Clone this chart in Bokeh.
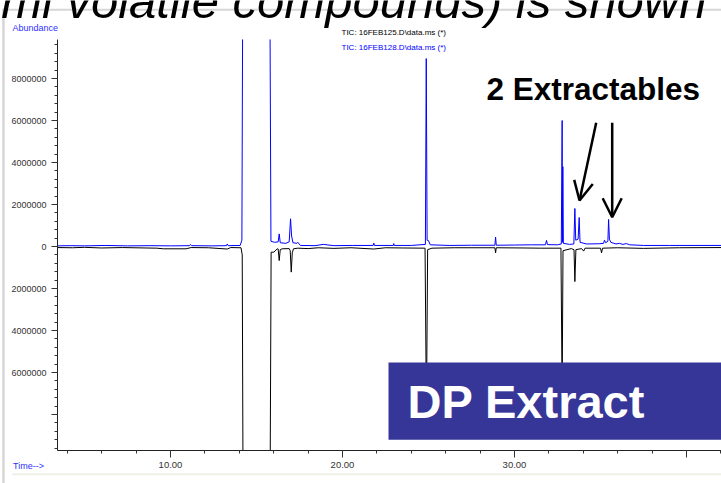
from bokeh.plotting import figure
from bokeh.models import Range1d, FixedTicker, Label, BoxAnnotation, Arrow, OpenHead
from bokeh.embed import file_html
from bokeh.resources import INLINE

OFF = float("nan")   # off-scale stretch of the saturated solvent peaks: not drawn

# ---------------- data ----------------
# Upper trace (blue): TIC 16FEB128.D, retention time in minutes, abundance in millions
blue_time = [3.43, 4.2, 5.0, 6.2, 7.5, 8.8, 10.0, 11.10, 11.16, 11.22, 12.4, 13.25, 13.30, 13.35,
             14.05, 14.15, 14.19, 15.00, 15.79, 15.84, 16.05, 16.26, 16.32, 16.38, 16.70, 16.90, 16.98,
             17.04, 17.12, 17.35, 17.40, 17.55, 18.4, 18.88, 19.5, 20.6, 21.78, 21.82, 21.86,
             22.95, 22.98, 23.01, 24.0, 24.82, 24.87, 24.92, 25.00, 25.10, 26.2, 27.5, 28.86,
             28.90, 28.94, 30.0, 31.0, 31.80, 31.86, 31.92, 32.5, 32.72, 32.77, 32.79, 32.81,
             32.84, 33.2, 33.45, 33.51, 33.56, 33.70, 33.76, 33.81, 34.2, 34.9, 35.18, 35.23,
             35.30, 35.43, 35.47, 35.52, 35.60, 35.9, 36.1, 36.3, 36.5, 36.7, 37.5, 39.0, 42.03]
blue_abund_m = [0.03, 0.04, 0.03, 0.05, 0.03, 0.04, 0.03, 0.04, 0.10, 0.04, 0.03, 0.04, 0.12, 0.04,
                0.05, 0.30, 9.86, OFF, 9.86, 0.25, 0.20, 0.22, 0.60, 0.18, 0.15, 0.22, 1.32,
                0.50, 0.18, 0.15, 0.20, 0.05, 0.04, 0.10, 0.04, 0.05, 0.05, 0.16, 0.05,
                0.05, 0.14, 0.05, 0.05, 0.10, 8.95, 0.30, 0.28, 0.08, 0.05, 0.06, 0.06,
                0.45, 0.06, 0.07, 0.08, 0.08, 0.29, 0.09, 0.08, 0.12, 6.00, 0.20, 3.80,
                0.15, 0.10, 0.12, 1.81, 0.30, 0.35, 1.38, 0.20, 0.12, 0.13, 0.15, 0.30,
                0.18, 0.25, 1.29, 0.35, 0.20, 0.12, 0.15, 0.10, 0.14, 0.08, 0.05, 0.05, 0.05]

# Lower trace (black, mirrored): TIC 16FEB125.D
black_time = [3.43, 4.3, 5.0, 6.0, 7.2, 9.2, 9.6, 10.9, 11.2, 12.2, 13.3, 13.5, 14.1, 14.17,
              14.21, 15.00, 15.80, 15.85, 16.01, 16.20, 16.26, 16.32, 16.38, 16.49, 16.90, 16.96,
              17.02, 17.08, 17.15, 17.4, 18.0, 18.6, 19.5, 20.5, 21.82, 22.5, 23.5, 24.80,
              24.88, 24.95, 25.2, 26.5, 28.86, 28.90, 28.94, 30.5, 31.5, 32.70, 32.77, 32.82,
              33.30, 33.46, 33.51, 33.57, 33.9, 34.02, 34.1, 35.0, 35.06, 35.12, 36.0, 37.5,
              39.6, 42.03]
black_abund_m = [-0.05, -0.06, -0.04, -0.07, -0.05, -0.08, -0.11, -0.11, -0.05, -0.06, -0.12, -0.05, -0.06, -0.40,
                 -9.71, OFF, -9.71, -0.27, -0.27, -0.11, -0.12, -0.67, -0.15, -0.11, -0.10, -0.20,
                 -1.22, -0.30, -0.11, -0.08, -0.10, -0.06, -0.09, -0.06, -0.12, -0.06, -0.07, -0.08,
                 -8.00, -0.15, -0.08, -0.06, -0.06, -0.30, -0.06, -0.07, -0.08, -0.08, -7.00, -0.20,
                 -0.10, -0.15, -1.67, -0.15, -0.10, -0.22, -0.08, -0.08, -0.30, -0.08, -0.06, -0.09,
                 -0.06, -0.05]

x_major_ticks = [10, 20, 30, 40]
x_tick_labels = ["10.00", "20.00", "30.00", ""]
y_major_ticks = [-8000000, -6000000, -4000000, -2000000, 0, 2000000, 4000000, 6000000, 8000000]
y_tick_labels = ["", "6000000", "4000000", "2000000", "0", "2000000", "4000000", "6000000", "8000000"]
legend_labels = ["TIC: 16FEB125.D\\data.ms (*)", "TIC: 16FEB128.D\\data.ms (*)"]

# ---------------- layout geometry (pixels of the 721x483 page) ----------------
W, H = 721, 483
AXIS_L, AXIS_T, AXIS_B = 57, 39, 450      # y-axis column, top and bottom of the plotting box
T10_PX, PX_PER_MIN = 170, 17.2            # 10.00 min position and spacing
ZERO_PY, PX_PER_MILLION = 246, 21          # abundance 0 position and spacing
SANS = "Liberation Sans"


def px_x(px):
    return 10 + (px - T10_PX) / PX_PER_MIN


def px_y(py):
    return (ZERO_PY - py) / PX_PER_MILLION * 1e6


p = figure(width=W, height=H, title=None,
           x_range=Range1d(px_x(0), px_x(W)), y_range=Range1d(px_y(H), px_y(0)),
           output_backend="svg", toolbar_location=None,
           min_border=0, min_border_left=0, min_border_right=0, min_border_top=0, min_border_bottom=0)
p.outline_line_color = None
p.grid.visible = False
p.background_fill_color = "white"
p.border_fill_color = "white"

# axes (drawn at fixed positions so the whole page is one drawing area)
p.xaxis.fixed_location = px_y(AXIS_B)
p.xaxis.bounds = (px_x(AXIS_L), px_x(W))
p.yaxis.fixed_location = px_x(AXIS_L)
p.yaxis.bounds = (px_y(AXIS_B), px_y(AXIS_T))
p.xaxis.ticker = FixedTicker(ticks=x_major_ticks, minor_ticks=list(range(4, 43, 2)))
p.xaxis.major_label_overrides = dict(zip(x_major_ticks, x_tick_labels))
p.yaxis.ticker = FixedTicker(ticks=y_major_ticks, minor_ticks=[i * 400000 for i in range(-24, 25)])
p.yaxis.major_label_overrides = dict(zip(y_major_ticks, y_tick_labels))
for ax in (p.xaxis, p.yaxis):
    ax.axis_line_color = "#222222"
    ax.axis_line_width = 1
    ax.major_tick_line_color = "#333333"
    ax.minor_tick_line_color = "#333333"
    ax.major_tick_in = 0
    ax.minor_tick_in = 0
    ax.major_label_text_font = SANS
    ax.major_label_text_color = "#333333"
p.xaxis.major_tick_out = 7
p.xaxis.minor_tick_out = 3
p.xaxis.major_label_text_font_size = "9.5px"
p.xaxis.major_label_standoff = 4
p.yaxis.major_tick_out = 6
p.yaxis.minor_tick_out = 3
p.yaxis.major_label_text_font_size = "9px"
p.yaxis.major_label_standoff = 5

# traces
p.line(black_time, [v * 1e6 for v in black_abund_m], line_color="#000000", line_width=1)
p.line(blue_time, [v * 1e6 for v in blue_abund_m], line_color="#0000ff", line_width=1)


# slide decorations: light frame lines (canvas units: pixels from the top-left corner)
def canvas_box(l, r, t, b, color):
    return BoxAnnotation(left=l, right=r, top=t, bottom=b,
                         left_units="canvas", right_units="canvas",
                         top_units="canvas", bottom_units="canvas",
                         fill_color=color, fill_alpha=1, line_color=None)


p.add_layout(canvas_box(2, W + 5, 8.3, 10.3, "#d6d6d6"))
p.add_layout(canvas_box(1.7, 4.2, 8.3, H + 5, "#d6d6d6"))
p.add_layout(canvas_box(12, W + 5, 472.7, 474.7, "#f0efe6"))


def canvas_label(x, y, text, size, color="#000000", align="left", style="normal"):
    return Label(x=x, y=y, x_units="canvas", y_units="canvas", text=text,
                 text_align=align, text_baseline="middle", text_font=SANS,
                 text_font_style=style, text_font_size=size, text_color=color)


# slide title (cut at the top of the window, as on the slide)
p.add_layout(canvas_label(706, 18 - 0.35 * 49, "mi volatile compounds) is shown", "49px",
                          align="right", style="italic"))

# axis captions
p.add_layout(canvas_label(12, 27, "Abundance", "9px", color="#3030ff"))
p.add_layout(canvas_label(12.5, 465.7, "Time-->", "9px", color="#3030ff"))

# legend texts
p.add_layout(canvas_label(341, 31.5, legend_labels[0], "8px", color="#000000"))
p.add_layout(canvas_label(341, 46.7, legend_labels[1], "8px", color="#0000ff"))

# annotation: 2 Extractables with arrows
p.add_layout(canvas_label(486, 88.3, "2 Extractables", "31.5px", style="bold"))
p.add_layout(Arrow(end=OpenHead(size=19, line_width=2.5, line_color="black"),
                   x_start=px_x(595.7), y_start=px_y(122.3), x_end=px_x(579), y_end=px_y(200),
                   line_width=2.5, line_color="black"))
p.add_layout(Arrow(end=OpenHead(size=19, line_width=2.5, line_color="black"),
                   x_start=px_x(611.7), y_start=px_y(122.3), x_end=px_x(611.7), y_end=px_y(216.7),
                   line_width=2.5, line_color="black"))

# DP Extract box
p.add_layout(canvas_box(388, W + 5, 362, 439.3, "#363699"))
p.add_layout(canvas_label(407, 401.3, "DP Extract", "47px", color="#ffffff", style="bold"))

open("out.html", "w").write(file_html(p, INLINE))
